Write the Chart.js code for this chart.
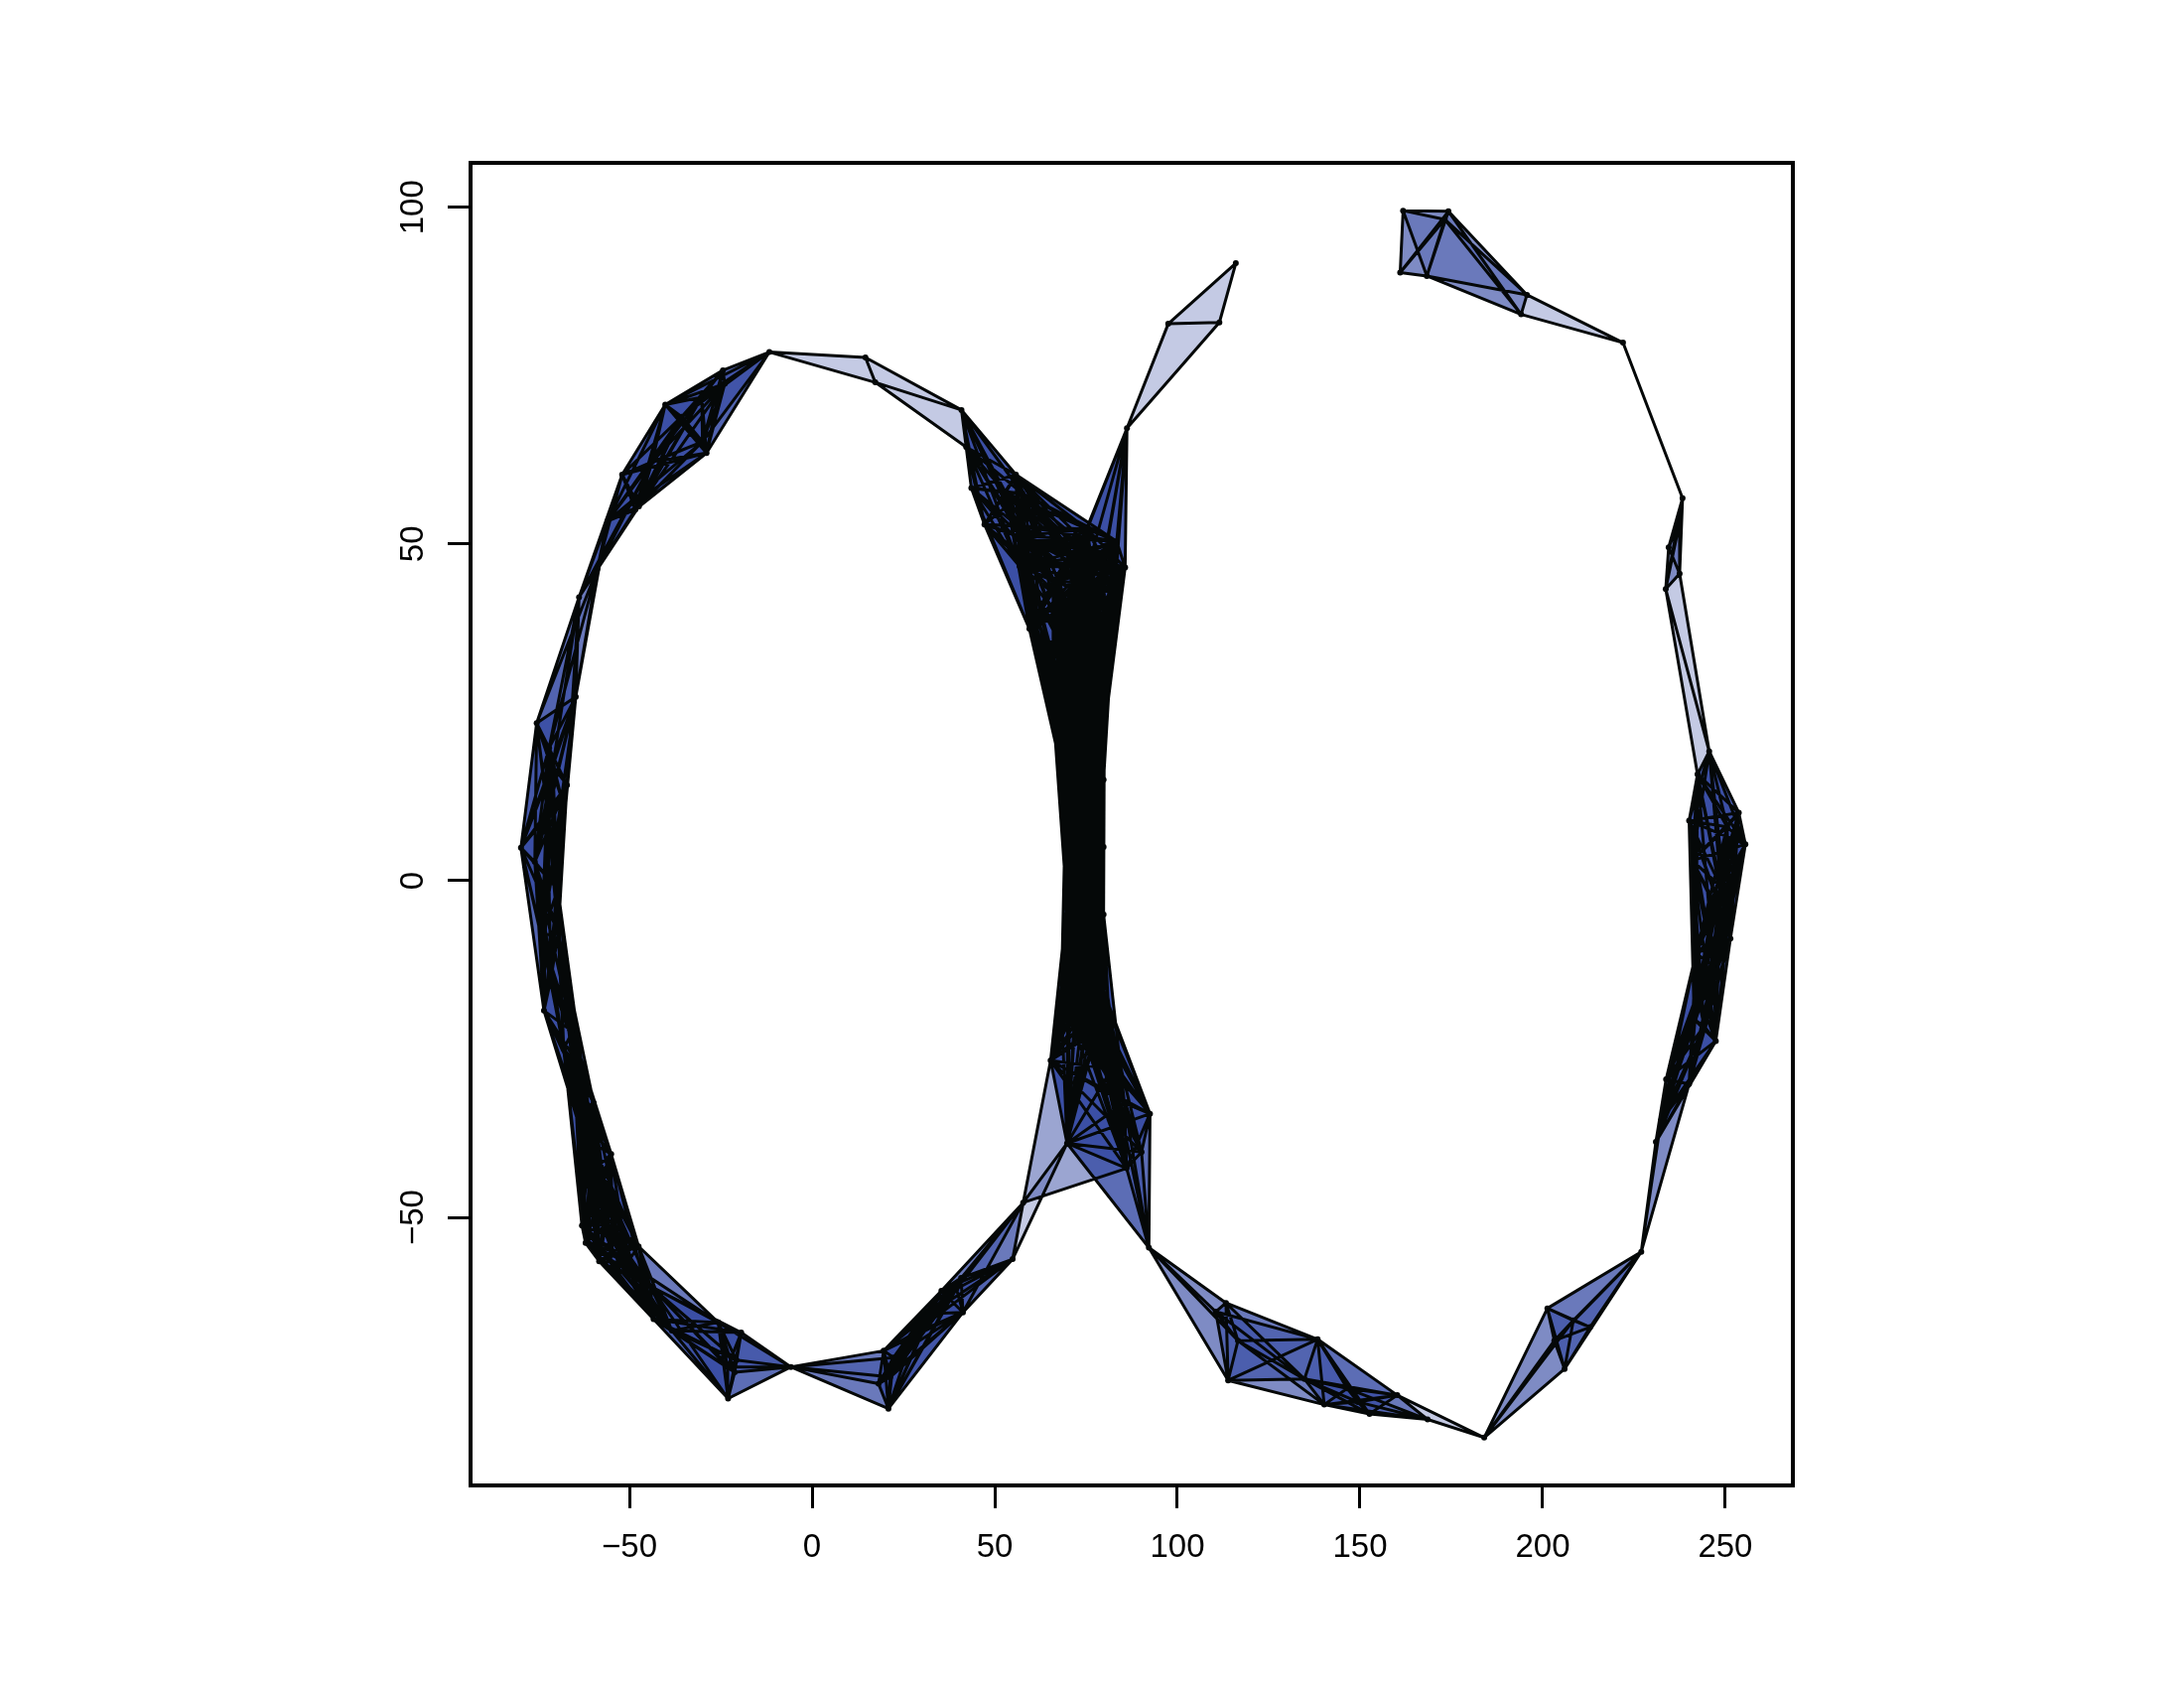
<!DOCTYPE html>
<html>
<head>
<meta charset="utf-8">
<title>Mesh</title>
<script src="https://cdn.jsdelivr.net/npm/chart.js@4/dist/chart.umd.min.js"></script>
<style>
  html, body { margin: 0; background: #fff; }
  canvas { display: block; }
</style>
</head>
<body>
<canvas id="mesh" width="2200" height="1700"></canvas>
<script>
// Node positions, one line per stretch of the curve
const nodeX = [
  -11.7, 14.6, 17.3, 40.9, 42.2, 43.6,
  -24.4, -40.2, -28.9, -52, -30.2, -35.7, -30, -43.8, -47.4, -56, -23.9, -48.4,
  -58.8, -63.8, -64.7, -75.4, -67.1, -68.6, -79.7, -69.5, -74, -73.4, -72.4, -71, -69.6, -75.9, -72,
  -71.5, -68, -62.8, -65.6, -64.2, -59.8, -55, -62.7, -58.8,
  -63, -62, -58.3, -47.5, -43.4, -44.3, -25.7, -19.4, -23, -23.1, -20.7, -21.2, -5.8, 19.6, 18.2, 20.9, -38.4, -54.7, -50.6, -56.5, -59.2,
  21.4, 22.3, 27.7, 32.3, 35.4, 39.5, 40.8, 41.3, 54.9, 57.8,
  65.3, 69.8, 92.5, 86.1, 90.2, 76, 85.5, 70.5, 78.5, 82, 75,
  92.2, 113.3, 110.5, 113.9, 138.4, 116.6, 140.2, 152.6, 160.2, 168.5, 184, 134.8, 146.5, 149.4,
  201.3, 206, 213, 208.4, 203.2, 227, 231, 232.4, 233.8, 240.1, 247.4,
  242, 251.4, 241, 240.1, 253.7, 255.5, 245.6, 242.4, 250.5, 246.9, 244.2, 241.5, 250.5, 248.8, 242.4,
  233.7, 234.5, 237.5, 238.3, 237.5,
  222, 195.7, 194.1, 174.2, 173.2, 161.8, 161, 168.3,
  116, 111.5, 97.5, 86.2,
  47.2, 55.8, 75.3, 83.4, 85.7, 59.5, 56.8, 57.2, 56.3, 57.6, 53,
  66.3, 68.5, 69.3, 69.8, 68.2,
  80, 80, 79.8, 79.8, 79.8, 79.8,
  72, 76, 80, 83, 66, 70, 78, 71, 66, 69, 73, 77, 79.5,
  69, 72, 76, 79, 71, 74, 78, 71, 73, 77, 70.5, 75, 79, 71, 74, 78, 70, 73, 76, 72, 76
];
const nodeY = [
  78.5, 77.7, 74, 69.9, 64.4, 58.3,
  75.8, 70.7, 63.5, 60.3, 71.8, 68.9, 65.2, 62.2, 55.6, 53.4, 73.8, 55.1,
  46.3, 42.1, 27.3, 23.4, 14.2, 12.3, 4.9, -7.7, -8.2, -19.3, 9.7, 17, -1.3, 2.8, 19.7,
  -14.6, -25, -28.3, -22.4, -34.3, -33, -40.6, -38.2, -42.5,
  -51.2, -53.8, -56.5, -54.3, -65.1, -60.2, -65.6, -67.1, -76.9, -72.2, -71.2, -73, -72.2, -69.8, -74.7, -78.4, -66.8, -55, -56.7, -51.1, -48.6,
  -73.7, -70.8, -67.3, -64.3, -60.9, -60.6, -59, -64.1, -56.2, -47.8,
  -26.7, -39, -34.6, -42.7, -40.3, -23, -33, -20.5, -21.1, -28, -22.5,
  -54.5, -62.7, -64, -74.2, -68.1, -68.3, -77.8, -79.2, -76.4, -80, -82.7, -74, -75.4, -77.4,
  -63.5, -72.5, -66.3, -65.3, -68.3, -55.1, -38.8, -35.6, -29.5, -30.2, -23.8,
  -10.8, -8.6, 3, 8.9, 10.1, 5.4, 19.2, 15.8, -6.8, -12.7, -21.6, -20.6, 8, -0.9, -16.7,
  43.3, 49.5, 45.6, 56.8, 53.2,
  79.9, 87, 84.1, 99.4, 98.2, 99.5, 90.3, 89.8,
  91.7, 82.9, 82.7, 67.2,
  52.9, 60.3, 52.2, 50.4, 46.5, 37.4, 46.7, 51.2, 52.7, 57.5, 57.6,
  23.1, 16, 8.7, -3.7, -18,
  30.5, 23, 15, 5, -5, -17.3,
  48, 47.5, 47.5, 44, 44.5, 41, 42, 33, 29, 27, 30, 28, 26,
  21, 22, 20, 18, 14, 13, 12, 8, 5, 5, 0, -1, -2, -6, -7, -7, -12, -13, -11, -19, -18
];
const tickX = [-50, 0, 50, 100, 150, 200, 250];
const tickY = [-50, 0, 50, 100];

// two nodes are joined when they are closer than this, in data units
const linkRadius = 30;

function closeTo(a, b) {
  return Math.hypot(nodeX[a] - nodeX[b], nodeY[a] - nodeY[b]) < linkRadius;
}

const node = (i) => ({ x: nodeX[i], y: nodeY[i] });
const gap = { x: NaN, y: NaN };

const edgePoints = [];
const facePoints = [];
for (let a = 0; a < nodeX.length; a++) {
  for (let b = a + 1; b < nodeX.length; b++) {
    if (!closeTo(a, b)) continue;
    edgePoints.push(node(a), node(b), gap);
    for (let c = b + 1; c < nodeX.length; c++) {
      if (closeTo(a, c) && closeTo(b, c)) {
        facePoints.push(node(a), node(b), node(c), node(a), gap);
      }
    }
  }
}

// Box around the plot area, the axes only draw two of its sides
const boxPlugin = {
  id: "box",
  afterDatasetsDraw(chart) {
    const { left, top, width, height } = chart.chartArea;
    const ctx = chart.ctx;
    ctx.save();
    ctx.strokeStyle = "#000";
    ctx.lineWidth = 4;
    ctx.strokeRect(left, top, width, height);
    ctx.restore();
  },
};

const tickLabel = (v) => String(v).replace("-", "\u2212");

new Chart(document.getElementById("mesh"), {
  type: "scatter",
  data: {
    datasets: [
      {
        label: "faces",
        data: facePoints,
        showLine: true,
        spanGaps: false,
        fill: "shape",
        backgroundColor: "rgba(59, 80, 165, 0.3)",
        borderWidth: 0,
        pointRadius: 0,
      },
      {
        label: "edges",
        data: edgePoints,
        showLine: true,
        spanGaps: false,
        borderColor: "#050808",
        borderWidth: 3,
        borderCapStyle: "round",
        pointRadius: 0,
      },
      {
        label: "nodes",
        data: nodeX.map((x, i) => ({ x: x, y: nodeY[i] })),
        showLine: false,
        backgroundColor: "#050808",
        borderWidth: 0,
        pointRadius: 3,
      },
    ],
  },
  options: {
    responsive: false,
    animation: false,
    devicePixelRatio: 1,
    layout: { padding: { top: 164, right: 394, left: 0, bottom: 0 } },
    plugins: {
      legend: { display: false },
      tooltip: { enabled: false },
      filler: { drawTime: "beforeDatasetsDraw" },
    },
    scales: {
      x: {
        type: "linear",
        min: -93.5,
        max: 268.5,
        afterBuildTicks: (s) => { s.ticks = tickX.map((v) => ({ value: v })); },
        afterFit: (s) => { s.height = 204; },
        border: { display: false },
        grid: { drawOnChartArea: false, tickLength: 23, tickWidth: 3, tickColor: "#000" },
        ticks: {
          autoSkip: false,
          maxRotation: 0,
          minRotation: 0,
          padding: 20,
          color: "#000",
          font: { family: "Liberation Sans", size: 33 },
          callback: tickLabel,
        },
      },
      y: {
        type: "linear",
        min: -89.8,
        max: 106.6,
        afterBuildTicks: (s) => { s.ticks = tickY.map((v) => ({ value: v })); },
        afterFit: (s) => { s.width = 474; },
        border: { display: false },
        grid: { drawOnChartArea: false, tickLength: 23, tickWidth: 3, tickColor: "#000" },
        ticks: {
          autoSkip: false,
          maxRotation: 90,
          minRotation: 90,
          crossAlign: "center",
          padding: 6,
          color: "#000",
          font: { family: "Liberation Sans", size: 33 },
          callback: tickLabel,
        },
      },
    },
  },
  plugins: [boxPlugin],
});
</script>
</body>
</html>
